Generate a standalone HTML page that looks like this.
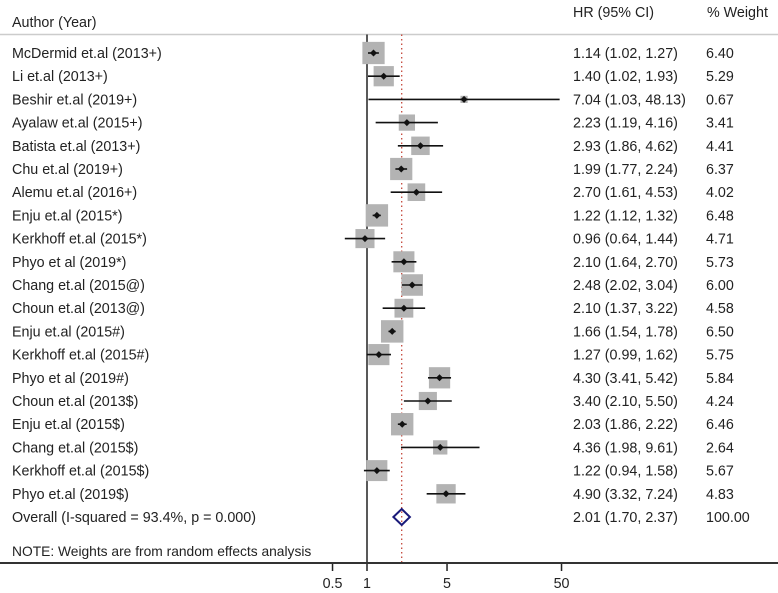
<!DOCTYPE html>
<html><head><meta charset="utf-8"><style>
html,body{margin:0;padding:0;background:#fff}
svg{display:block;font-family:"Liberation Sans",Arial,sans-serif}
</style></head><body>
<svg id="chart" width="778" height="593" viewBox="0 0 778 593" xmlns="http://www.w3.org/2000/svg">
<text x="12" y="27" font-size="14.3" fill="#222">Author (Year)</text>
<text x="573" y="17" font-size="14.3" fill="#222">HR (95% CI)</text>
<text x="707" y="17" font-size="14.3" fill="#222">% Weight</text>
<line x1="0" y1="34.5" x2="778" y2="34.5" stroke="#ccc" stroke-width="1.5"/>
<g id="marks"></g>
<line x1="0" y1="563" x2="778" y2="563" stroke="#333" stroke-width="2"/>
<text x="12" y="556" font-size="13.8" fill="#222">NOTE: Weights are from random effects analysis</text>
</svg>
<script>
const studies = ["McDermid et.al (2013+)","Li et.al (2013+)","Beshir et.al (2019+)","Ayalaw et.al (2015+)","Batista et.al (2013+)","Chu et.al (2019+)","Alemu et.al (2016+)","Enju et.al (2015*)","Kerkhoff et.al (2015*)","Phyo et al (2019*)","Chang et.al (2015@)","Choun et.al (2013@)","Enju et.al (2015#)","Kerkhoff et.al (2015#)","Phyo et al (2019#)","Choun et.al (2013$)","Enju et.al (2015$)","Chang et.al (2015$)","Kerkhoff et.al (2015$)","Phyo et.al (2019$)"];
const hr = [1.14,1.40,7.04,2.23,2.93,1.99,2.70,1.22,0.96,2.10,2.48,2.10,1.66,1.27,4.30,3.40,2.03,4.36,1.22,4.90];
const lo = [1.02,1.02,1.03,1.19,1.86,1.77,1.61,1.12,0.64,1.64,2.02,1.37,1.54,0.99,3.41,2.10,1.86,1.98,0.94,3.32];
const hi = [1.27,1.93,48.13,4.16,4.62,2.24,4.53,1.32,1.44,2.70,3.04,3.22,1.78,1.62,5.42,5.50,2.22,9.61,1.58,7.24];
const weights = [6.40,5.29,0.67,3.41,4.41,6.37,4.02,6.48,4.71,5.73,6.00,4.58,6.50,5.75,5.84,4.24,6.46,2.64,5.67,4.83];
const overall = {hr:2.01, lo:1.70, hi:2.37, label:"Overall (I-squared = 93.4%, p = 0.000)", weight:"100.00"};
const ticks = [0.5,1,5,50];

const NS="http://www.w3.org/2000/svg";
const g=document.getElementById('marks');
const x=v=>367+Math.log10(v)*114.5;
const rowY=i=>53+i*23.2;
const fmt=v=>v.toFixed(2);
const FS=14.3;
function mk(tag,attrs,parent){const e=document.createElementNS(NS,tag);for(const k in attrs)e.setAttribute(k,attrs[k]);(parent||g).appendChild(e);return e;}

let nl=mk('line',{x1:x(1),y1:34.5,x2:x(1),y2:563,stroke:'#222','stroke-width':1.5});


let ol=mk('line',{x1:x(overall.hr),y1:34.5,x2:x(overall.hr),y2:563,stroke:'#c0392b','stroke-width':1.2,'stroke-dasharray':'1.5 3'});



studies.forEach((s,i)=>{
  const y=rowY(i);
  const side=8.8*Math.sqrt(weights[i]);
  const box=mk('rect',{x:x(hr[i])-side/2,y:y-side/2,width:side,height:side,fill:'#b3b3b3'});
  
  
  const ci=mk('line',{x1:x(lo[i]),y1:y,x2:x(hi[i]),y2:y,stroke:'#111','stroke-width':1.6});
  
  
  const pt=mk('path',{d:`M${x(hr[i])-3.5},${y}L${x(hr[i])},${y-3.5}L${x(hr[i])+3.5},${y}L${x(hr[i])},${y+3.5}Z`,fill:'#111'});
  
  
  const t1=mk('text',{x:12,y:y+5,'font-size':FS,fill:'#222'});t1.textContent=s;
  
  
  const t2=mk('text',{x:573,y:y+5,'font-size':FS,fill:'#222'});t2.textContent=`${fmt(hr[i])} (${fmt(lo[i])}, ${fmt(hi[i])})`;
  
  
  const t3=mk('text',{x:706,y:y+5,'font-size':FS,fill:'#222'});t3.textContent=fmt(weights[i]);
  
  
});
const oy=rowY(20);
const dm=mk('path',{d:`M${x(overall.lo)},${oy}L${x(overall.hr)},${oy-8}L${x(overall.hi)},${oy}L${x(overall.hr)},${oy+8}Z`,fill:'none',stroke:'#1a1a7a','stroke-width':2});


let o1=mk('text',{x:12,y:oy+5,'font-size':FS,fill:'#222'});o1.textContent=overall.label;


let o2=mk('text',{x:573,y:oy+5,'font-size':FS,fill:'#222'});o2.textContent=`${fmt(overall.hr)} (${fmt(overall.lo)}, ${fmt(overall.hi)})`;


let o3=mk('text',{x:706,y:oy+5,'font-size':FS,fill:'#222'});o3.textContent=overall.weight;



ticks.forEach(t=>{
  const tk=mk('line',{x1:x(t),y1:563,x2:x(t),y2:571,stroke:'#222','stroke-width':1.5});
  
  
  const tl=mk('text',{x:x(t),y:588,'font-size':FS,fill:'#222','text-anchor':'middle'});tl.textContent=String(t);
  
  
});
</script>
</body></html>
